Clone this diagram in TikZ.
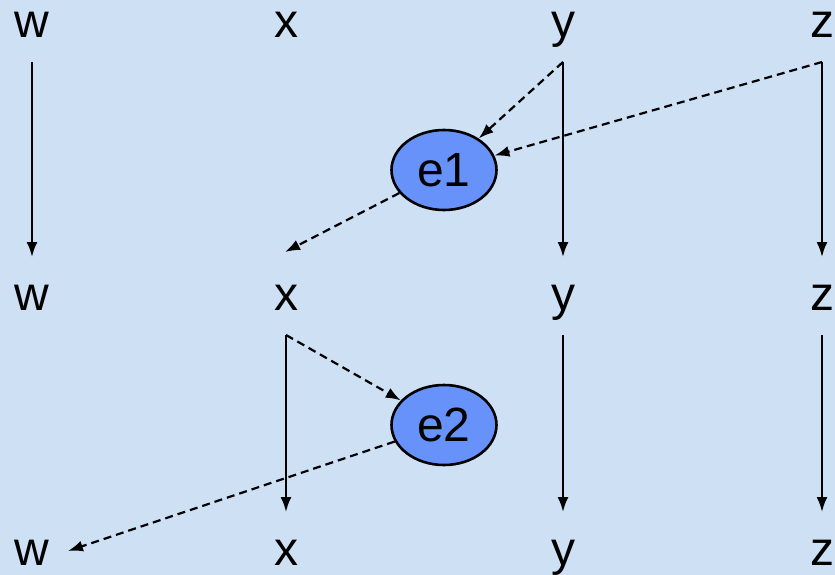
\documentclass[tikz,border=0pt]{standalone}
\usepackage{fontspec}
\setmainfont{Liberation Sans}
\usetikzlibrary{arrows.meta,shapes.geometric}
\definecolor{bgblue}{RGB}{206,224,244}
\definecolor{ellblue}{RGB}{102,146,250}
\begin{document}
\begin{tikzpicture}[x=1pt,y=-1pt,
  lab/.style={inner sep=0pt,anchor=base,font=\fontsize{48}{50}\selectfont},
  ev/.style={ellipse,draw=black,line width=2.6pt,fill=ellblue,minimum width=105pt,minimum height=80pt,inner sep=0pt,font=\fontsize{48}{50}\selectfont},
  solidarr/.style={line width=2.2pt,-{Latex[length=15pt,width=11pt]}},
  dasharr/.style={line width=2.2pt,dash pattern=on 8pt off 5pt,-{Latex[length=15pt,width=11pt]}}]
\fill[bgblue] (0,0) rectangle (835,575);
\useasboundingbox (0,0) rectangle (835,575);
% labels
\foreach \n/\t/\x in {w/w/32,x/x/286,y/y/563,z/z/822}{
  \node[lab] (\n1) at (\x,38) {\t};
  \node[lab] (\n2) at (\x,310) {\t};
  \node[lab] (\n3) at (\x,565) {\t};
}
% connector end points
\coordinate (w1s) at (32,62);   \coordinate (w2n) at (32,257);
\coordinate (y1s) at (563,62);  \coordinate (y2n) at (563,257);
\coordinate (z1s) at (822,62);  \coordinate (z2n) at (822,257);
\coordinate (x2s) at (286,335); \coordinate (x3n) at (286,512);
\coordinate (y2s) at (563,335); \coordinate (y3n) at (563,512);
\coordinate (z2s) at (822,335); \coordinate (z3n) at (822,512);
\coordinate (x2n) at (285,252);
\coordinate (w3e) at (68,551);
% ellipses
\node[ev] (e1) at (444,170) {e1};
\node[ev] (e2) at (444,425) {e2};
% solid arrows
\draw[solidarr] (w1s) -- (w2n);
\draw[solidarr] (y1s) -- (y2n);
\draw[solidarr] (z1s) -- (z2n);
\draw[solidarr] (x2s) -- (x3n);
\draw[solidarr] (y2s) -- (y3n);
\draw[solidarr] (z2s) -- (z3n);
% dashed arrows
\draw[dasharr] (y1s) -- (e1);
\draw[dasharr] (z1s) -- (e1);
\draw[dasharr] (e1) -- (x2n);
\draw[dasharr] (x2s) -- (e2);
\draw[dasharr] (e2) -- (w3e);
\end{tikzpicture}
\end{document}
